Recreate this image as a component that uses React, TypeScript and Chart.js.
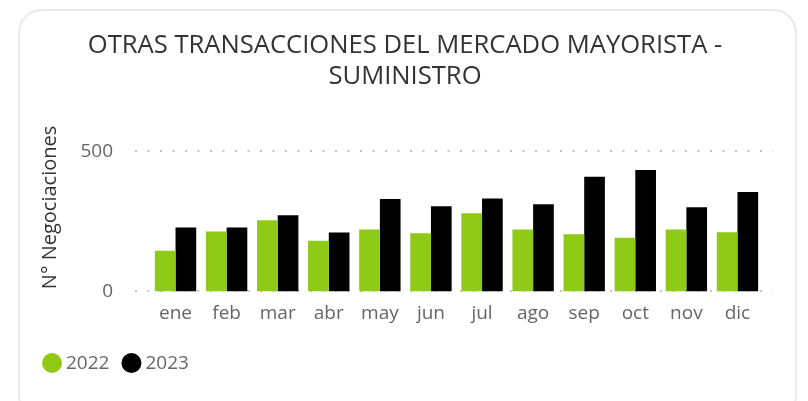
import React, { useEffect, useRef } from "react";
import { Chart, registerables } from "chart.js";

Chart.register(...registerables);

const TITLE_LINES = ["OTRAS TRANSACCIONES DEL MERCADO MAYORISTA -", "SUMINISTRO"];
const Y_AXIS_TITLE = "N° Negociaciones";
const MONTHS = ["ene", "feb", "mar", "abr", "may", "jun", "jul", "ago", "sep", "oct", "nov", "dic"];
const SERIES_LABELS = ["2022", "2023"];
const SERIES_2022 = [145, 214, 254, 181, 221, 208, 279, 221, 204, 192, 221, 211];
const SERIES_2023 = [228, 228, 272, 210, 330, 304, 332, 311, 410, 434, 301, 355];
const SERIES_COLORS = ["#8FCB16", "#000000"];
const Y_MIN = 0;
const Y_MAX = 600;
const Y_TICKS = [0, 500];

const FONT = "'Open Sans', 'Noto Sans', sans-serif";

const dottedGrid = {
  id: "dottedGrid",
  beforeDatasetsDraw(chart: any) {
    const { ctx, chartArea, scales } = chart;
    const y = scales.y;
    ctx.save();
    ctx.strokeStyle = "#c4c4c4";
    ctx.lineWidth = 2;
    ctx.setLineDash([2, 10.5]);
    y.ticks.forEach((t: any) => {
      const py = Math.round(y.getPixelForValue(t.value));
      ctx.beginPath();
      ctx.moveTo(chartArea.left - 15, py);
      ctx.lineTo(chartArea.right + 10, py);
      ctx.stroke();
    });
    ctx.restore();
  },
};

const bottomLegend = {
  id: "bottomLegend",
  afterDraw(chart: any) {
    const { ctx } = chart;
    ctx.save();
    ctx.font = `19px ${FONT}`;
    ctx.textBaseline = "middle";
    ctx.textAlign = "left";
    let x = 42;
    const cy = 363;
    const r = 10;
    chart.data.datasets.forEach((ds: any) => {
      ctx.fillStyle = ds.backgroundColor;
      ctx.beginPath();
      ctx.arc(x + r, cy, r, 0, Math.PI * 2);
      ctx.fill();
      ctx.fillStyle = "#666666";
      ctx.fillText(ds.label, x + 2 * r + 4, cy + 1);
      x += 2 * r + 4 + ctx.measureText(ds.label).width + 12;
    });
    ctx.restore();
  },
};

export default function App() {
  const ref = useRef<HTMLCanvasElement | null>(null);

  useEffect(() => {
    if (!ref.current) return;
    const chart = new Chart(ref.current, {
      type: "bar",
      data: {
        labels: MONTHS,
        datasets: [
          {
            label: SERIES_LABELS[0],
            data: SERIES_2022,
            backgroundColor: SERIES_COLORS[0],
            barPercentage: 1,
            categoryPercentage: 0.81,
          },
          {
            label: SERIES_LABELS[1],
            data: SERIES_2023,
            backgroundColor: SERIES_COLORS[1],
            barPercentage: 1,
            categoryPercentage: 0.81,
          },
        ],
      },
      options: {
        responsive: false,
        animation: false,
        layout: { padding: { left: 47, right: 45, top: 0, bottom: 65.6 } },
        plugins: {
          legend: { display: false },
          tooltip: { enabled: false },
          title: {
            display: true,
            text: TITLE_LINES,
            color: "#333333",
            font: { family: FONT, size: 25.6, weight: "normal", lineHeight: 1.21 },
            padding: { top: 30.5, bottom: 31 },
          },
        },
        scales: {
          x: {
            grid: { display: false, drawTicks: false },
            border: { display: false },
            ticks: {
              color: "#666666",
              font: { family: FONT, size: 19 },
              padding: 10.6,
              maxRotation: 0,
            },
          },
          y: {
            min: Y_MIN,
            max: Y_MAX,
            afterBuildTicks: (scale: any) => {
              scale.ticks = Y_TICKS.map((v) => ({ value: v }));
            },
            grid: { display: false, drawTicks: false },
            border: { display: false },
            ticks: {
              color: "#666666",
              font: { family: FONT, size: 19 },
              padding: 37,
            },
            title: {
              display: true,
              text: Y_AXIS_TITLE,
              color: "#333333",
              font: { family: FONT, size: 20, weight: "normal" },
              padding: { top: -9, bottom: -18.6 },
            },
          },
        },
      },
      plugins: [dottedGrid, bottomLegend],
    });
    return () => chart.destroy();
  }, []);

  return (
    <div style={{ position: "fixed", left: 0, top: 0, width: 808, height: 401, background: "#ffffff", overflow: "hidden" }}>
      <div
        style={{
          position: "absolute",
          left: 18,
          top: 9,
          width: 779,
          height: 410,
          border: "2px solid #e9e9e9",
          borderRadius: 24,
          boxSizing: "border-box",
        }}
      />
      <canvas ref={ref} width={808} height={401} style={{ position: "absolute", left: 0, top: 0, width: 808, height: 401 }} />
    </div>
  );
}
